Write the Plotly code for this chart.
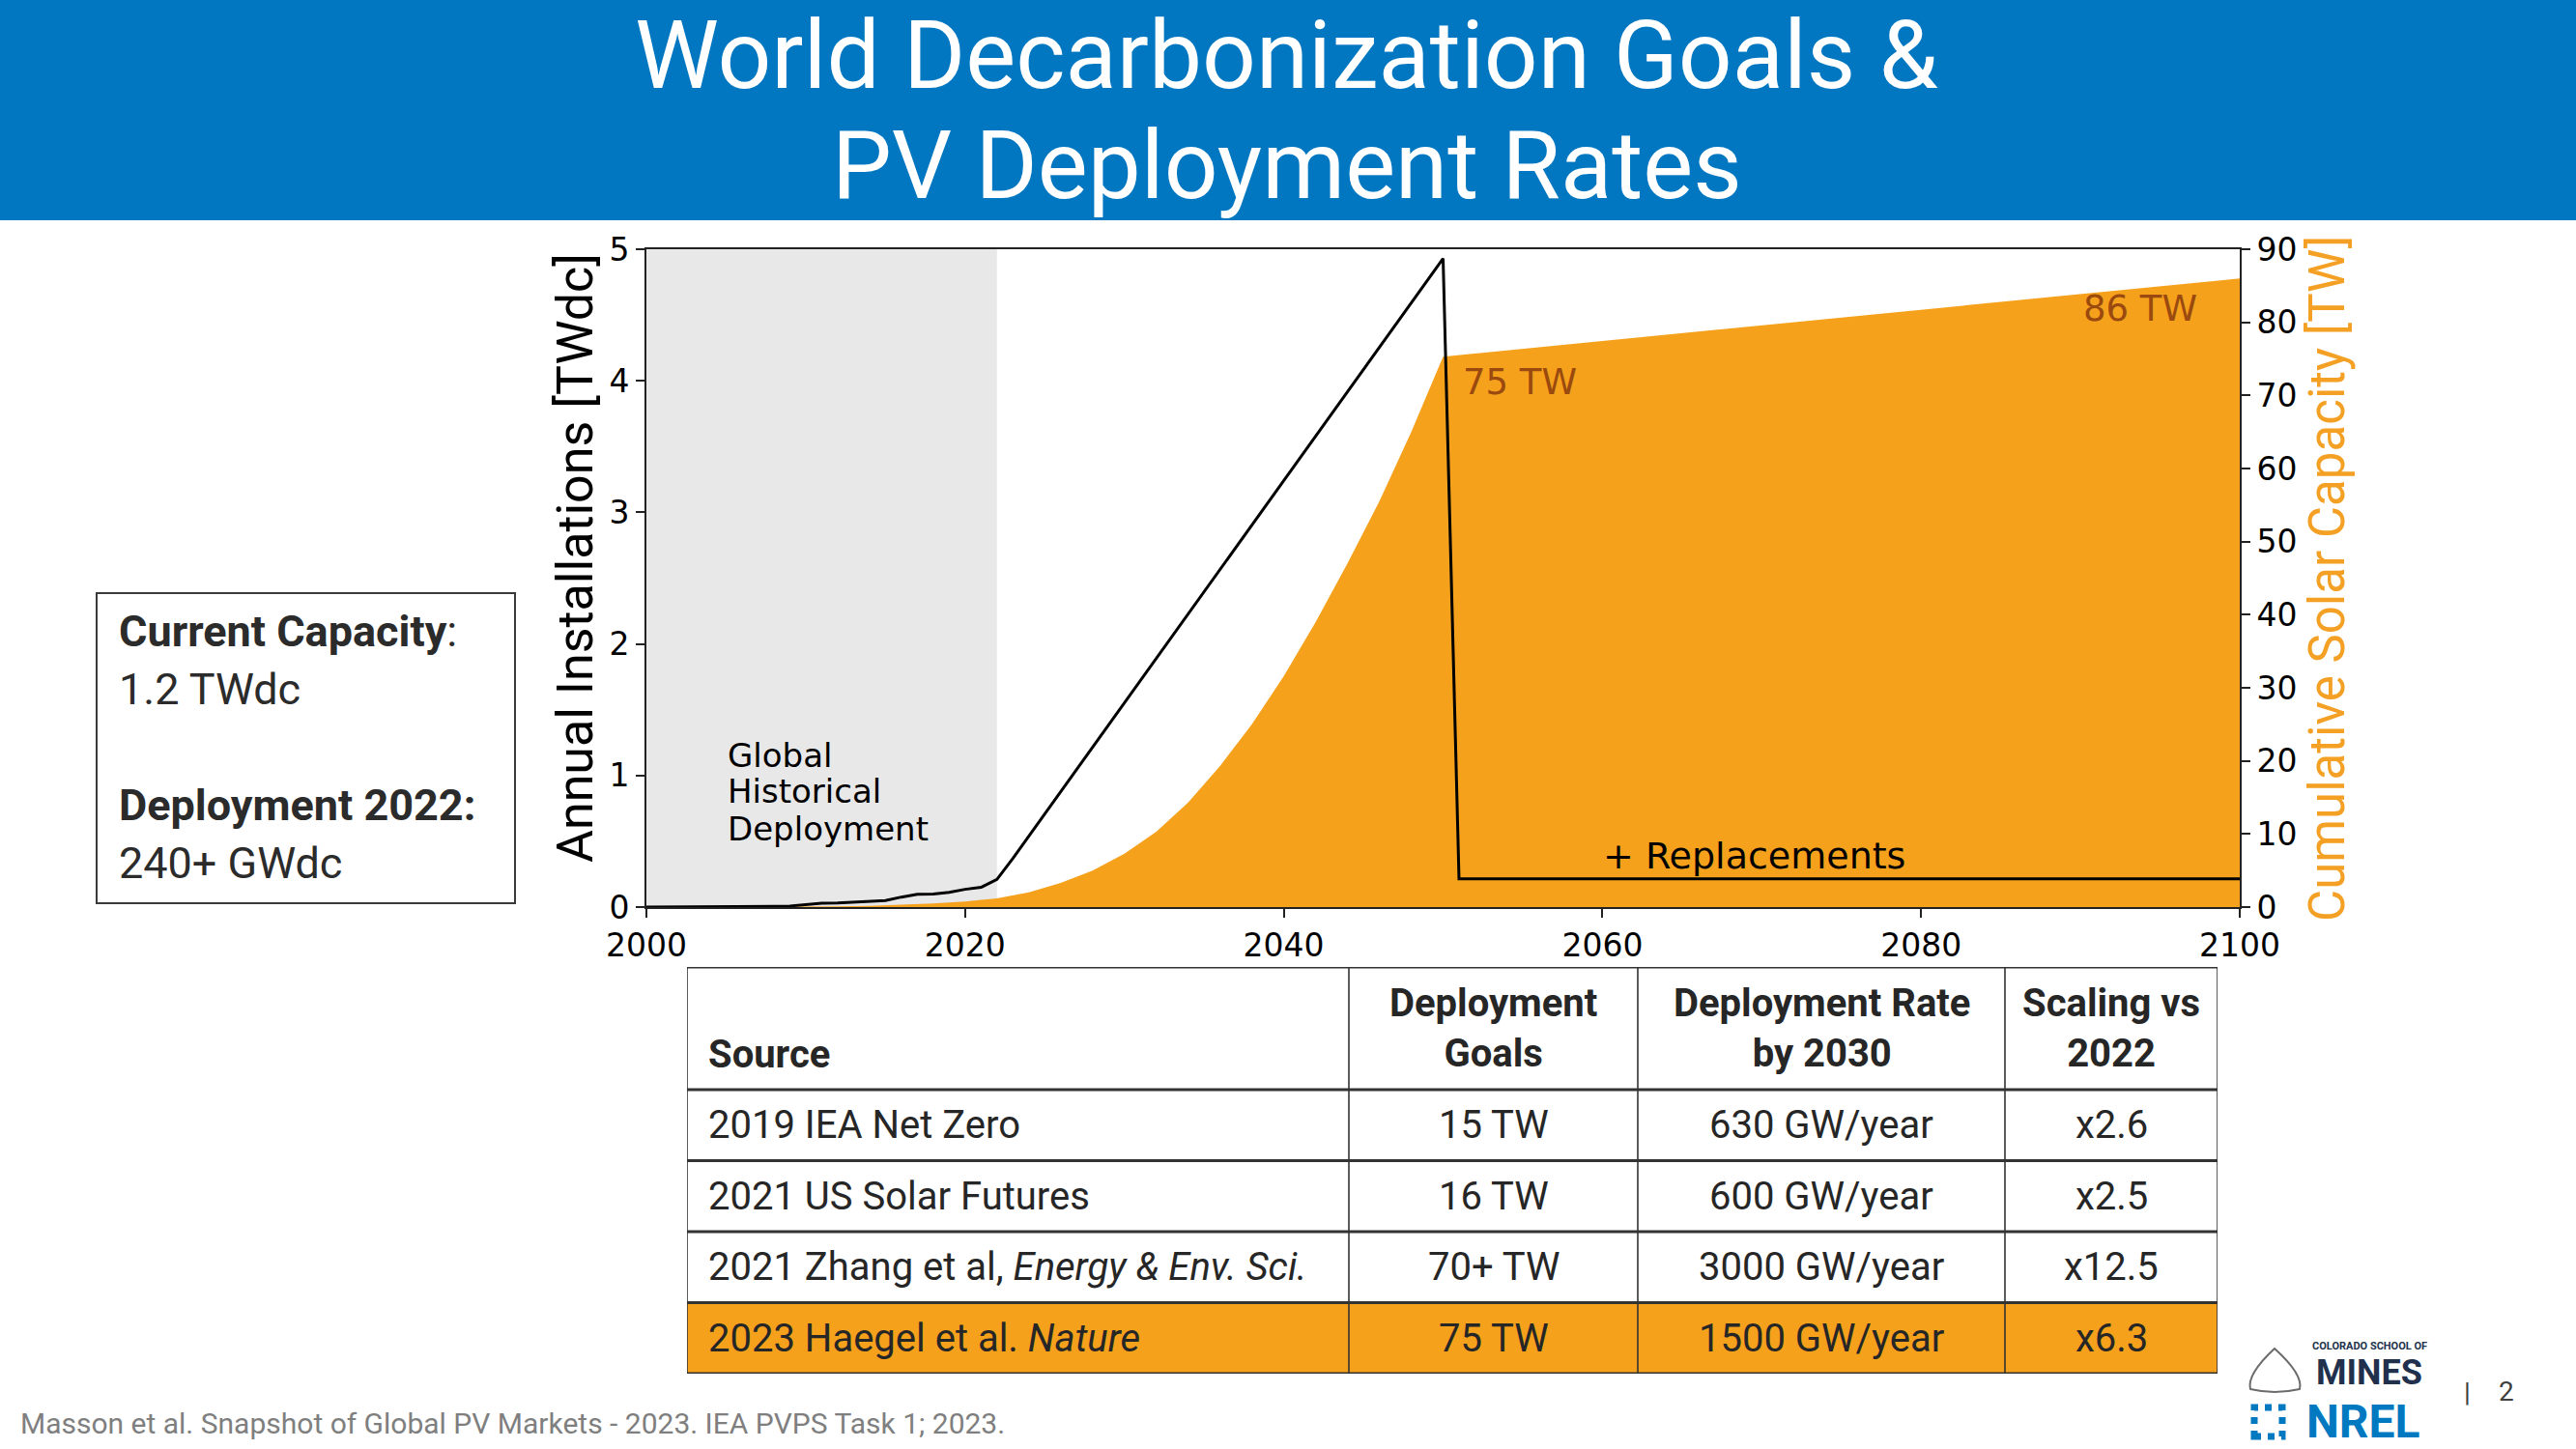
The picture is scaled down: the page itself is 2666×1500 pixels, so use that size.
import plotly.graph_objects as go

W, H = 2666, 1500

# ---------------- data ----------------
annual_years = [2000, 2005, 2008, 2009, 2010, 2011, 2012, 2013, 2014, 2015, 2016, 2017,
                2018, 2019, 2020, 2021, 2022, 2023, 2050, 2051, 2100]
annual_tw = [0.0, 0.001, 0.005, 0.008, 0.017, 0.030, 0.031, 0.036, 0.040, 0.050, 0.076, 0.098,
             0.100, 0.112, 0.135, 0.150, 0.210, 0.370, 4.930, 0.215, 0.215]

cum_years = [2000, 2005, 2010, 2012, 2014, 2016, 2018, 2020, 2022, 2024, 2026, 2028, 2030,
             2032, 2034, 2036, 2038, 2040, 2042, 2044, 2046, 2048, 2050, 2100]
cum_tw = [0.0, 0.005, 0.04, 0.10, 0.18, 0.30, 0.50, 0.76, 1.2, 2.0, 3.3, 5.0, 7.3,
          10.3, 14.3, 19.3, 25.0, 31.6, 39.0, 47.0, 55.5, 65.0, 75.3, 86.0]

historical_span = [2000, 2022]

x_ticks = [2000, 2020, 2040, 2060, 2080, 2100]
left_ticks = [0, 1, 2, 3, 4, 5]
right_ticks = [0, 10, 20, 30, 40, 50, 60, 70, 80, 90]

hist_label_lines = ["Global", "Historical", "Deployment"]
hist_label_y = [1.153, 0.881, 0.595]

table_header = ["Source", "Deployment<br>Goals", "Deployment Rate<br>by 2030", "Scaling vs<br>2022"]
sources = ["2019 IEA Net Zero", "2021 US Solar Futures",
           "2021 Zhang et al, <i>Energy &amp; Env. Sci.</i>", "2023 Haegel et al. <i>Nature</i>"]
goals = ["15 TW", "16 TW", "70+ TW", "75 TW"]
rates = ["630 GW/year", "600 GW/year", "3000 GW/year", "1500 GW/year"]
scaling = ["x2.6", "x2.5", "x12.5", "x6.3"]
highlight_row = 3

box_lines = [("<b>Current Capacity</b>:", 653), ("1.2 TWdc", 713),
             ("<b>Deployment 2022:</b>", 833), ("240+ GWdc", 893)]

# ---------------- styles / layout sizes ----------------
BLUE = "#0077C0"
ORANGE = "#F5A11C"
ORANGE_TXT = "#F4A024"
BROWN = "#9A4A0E"
DARK = "#262626"
CAL = "Roboto, Lato, 'Open Sans', sans-serif"
DJV = "DejaVu Sans, sans-serif"

col_w = [685, 299, 380, 220]          # table column widths (px)
row_h = [127, 73.5, 73.5, 73.5, 73.5]  # header + body row heights (px)


def px(x):
    return x / W


def py(y):
    return 1 - y / H


fig = go.Figure()

fig.add_trace(go.Scatter(x=cum_years, y=cum_tw, xaxis="x", yaxis="y", mode="lines",
                         line=dict(width=0, color=ORANGE), fill="tozeroy", fillcolor=ORANGE,
                         hoverinfo="skip", showlegend=False))
fig.add_trace(go.Scatter(x=annual_years, y=annual_tw, xaxis="x", yaxis="y2", mode="lines",
                         line=dict(width=3, color="black"), hoverinfo="skip", showlegend=False))

axis_common = dict(showgrid=False, zeroline=False, showline=True, linecolor="#222222", linewidth=2,
                   ticks="outside", ticklen=9, tickwidth=2, tickcolor="#222222", automargin=False,
                   tickfont=dict(family=DJV, size=33, color="black"))

tab_w = sum(col_w)
tab_h = sum(row_h)
fig.update_layout(
    width=W, height=H, margin=dict(l=0, r=0, t=0, b=0, pad=0, autoexpand=False),
    paper_bgcolor="white", plot_bgcolor="white", showlegend=False,
    xaxis=dict(domain=[px(669), px(2318)], range=[2000, 2100], tickvals=x_ticks, mirror=True,
               anchor="y", **axis_common),
    yaxis=dict(domain=[py(939), py(258)], range=[0, 90], tickvals=right_ticks, side="right",
               anchor="x", **axis_common),
    yaxis2=dict(range=[0, 5], tickvals=left_ticks, side="left", overlaying="y", anchor="x",
                **axis_common),
    # hidden axes used to lay out the table
    xaxis3=dict(domain=[px(711), px(711 + tab_w)], range=[0, tab_w], visible=False, anchor="y3",
                fixedrange=True, automargin=False),
    yaxis3=dict(domain=[py(1001 + tab_h), py(1001)], range=[tab_h, 0], visible=False, anchor="x3",
                fixedrange=True, automargin=False),
)

shapes = []
# grey historical span
shapes.append(dict(type="rect", xref="x", yref="y domain", x0=historical_span[0], x1=historical_span[1],
                   y0=0, y1=1, fillcolor="#E8E8E8", line=dict(width=0), layer="below"))
# blue banner
shapes.append(dict(type="rect", xref="paper", yref="paper", x0=0, x1=1, y0=py(228), y1=1,
                   fillcolor=BLUE, line=dict(width=0), layer="below"))
# info box
shapes.append(dict(type="rect", xref="paper", yref="paper", x0=px(100), x1=px(533), y0=py(935), y1=py(614),
                   fillcolor="rgba(0,0,0,0)", line=dict(color="#3a3a3a", width=2)))

# ---- table (on hidden axes x3/y3) ----
col_edges = [0]
for w in col_w:
    col_edges.append(col_edges[-1] + w)
row_edges = [0]
for h in row_h:
    row_edges.append(row_edges[-1] + h)

hl_top = row_edges[highlight_row + 1]
hl_bot = row_edges[highlight_row + 2]
shapes.append(dict(type="rect", xref="x3", yref="y3", x0=0, x1=tab_w, y0=hl_top, y1=hl_bot,
                   fillcolor=ORANGE, line=dict(width=0), layer="above"))
for xe in col_edges:
    shapes.append(dict(type="line", xref="x3", yref="y3", x0=xe, x1=xe, y0=0, y1=tab_h,
                       line=dict(color="#333333", width=1.6), layer="above"))
for ye in row_edges:
    shapes.append(dict(type="line", xref="x3", yref="y3", x0=-0.8, x1=tab_w + 0.8, y0=ye, y1=ye,
                       line=dict(color="#333333", width=3.2), layer="above"))

# NREL icon (dotted square)
shapes.append(dict(type="rect", xref="paper", yref="paper", x0=px(2333), x1=px(2362), y0=py(1487), y1=py(1457),
                   line=dict(color="#0079C1", width=7, dash="dot")))
# Mines shield outline
sx = px
sy = py
shapes.append(dict(type="path", xref="paper", yref="paper",
                   path=f"M {sx(2354)},{sy(1396)} Q {sx(2384)},{sy(1423)} {sx(2380)},{sy(1438)} "
                        f"Q {sx(2354)},{sy(1444)} {sx(2329)},{sy(1438)} Q {sx(2325)},{sy(1423)} {sx(2354)},{sy(1396)} Z",
                   line=dict(color="#6b6b6b", width=2), fillcolor="rgba(0,0,0,0)"))
fig.update_layout(shapes=shapes)

ann = []
# title
ann.append(dict(text="World Decarbonization Goals &", x=0.4995, y=py(57.5), xref="paper", yref="paper",
                xanchor="center", yanchor="middle", showarrow=False,
                font=dict(family=CAL, size=98, color="white", weight=400)))
ann.append(dict(text="PV Deployment Rates", x=0.4995, y=py(171.5), xref="paper", yref="paper",
                xanchor="center", yanchor="middle", showarrow=False,
                font=dict(family=CAL, size=98, color="white", weight=400)))
# axis titles
ann.append(dict(text="Annual Installations [TWdc]", x=px(595), y=py(578), xref="paper", yref="paper",
                textangle=-90, xanchor="center", yanchor="middle", showarrow=False,
                font=dict(family=CAL, size=52, color="black")))
ann.append(dict(text="Cumulative Solar Capacity [TW]", x=px(2408), y=py(599), xref="paper", yref="paper",
                textangle=-90, xanchor="center", yanchor="middle", showarrow=False,
                font=dict(family=CAL, size=51, color=ORANGE_TXT)))
# in-chart labels
for t, yv in zip(hist_label_lines, hist_label_y):
    ann.append(dict(text=t, x=2005.0, y=yv, xref="x", yref="y2", xanchor="left", yanchor="middle",
                    showarrow=False, font=dict(family=DJV, size=34, color="black")))
ann.append(dict(text="75 TW", x=2051.15, y=71.8, xref="x", yref="y", xanchor="left", yanchor="middle",
                showarrow=False, font=dict(family=DJV, size=37, color=BROWN)))
ann.append(dict(text="86 TW", x=2097.45, y=81.9, xref="x", yref="y", xanchor="right", yanchor="middle",
                showarrow=False, font=dict(family=DJV, size=37, color=BROWN)))
ann.append(dict(text="+ Replacements", x=2059.9, y=0.39, xref="x", yref="y2", xanchor="left",
                yanchor="middle", showarrow=False, font=dict(family=DJV, size=38, color="black")))

# table text
tfont = dict(family=CAL, size=40, color=DARK)
hdr_center = row_h[0] / 2
ann.append(dict(text="<b>" + table_header[0] + "</b>", x=20, y=90, xref="x3", yref="y3",
                xanchor="left", yanchor="middle", showarrow=False, font=tfont))
for c in range(1, 4):
    ann.append(dict(text="<b>" + table_header[c] + "</b>", x=(col_edges[c] + col_edges[c + 1]) / 2,
                    y=hdr_center, xref="x3", yref="y3", xanchor="center", yanchor="middle",
                    showarrow=False, font=tfont))
columns = [sources, goals, rates, scaling]
for r in range(len(sources)):
    yc = (row_edges[r + 1] + row_edges[r + 2]) / 2
    for c, col in enumerate(columns):
        if c == 0:
            ann.append(dict(text=col[r], x=20, y=yc, xref="x3", yref="y3", xanchor="left",
                            yanchor="middle", showarrow=False, font=tfont))
        else:
            ann.append(dict(text=col[r], x=(col_edges[c] + col_edges[c + 1]) / 2, y=yc, xref="x3",
                            yref="y3", xanchor="center", yanchor="middle", showarrow=False, font=tfont))

# info box text
for t, yy in box_lines:
    ann.append(dict(text=t, x=px(121), y=py(yy), xref="paper", yref="paper", xanchor="left",
                    yanchor="middle", showarrow=False, font=dict(family=CAL, size=45, color="#2b2b2b")))
# footer
ann.append(dict(text="Masson et al. Snapshot of Global PV Markets - 2023. IEA PVPS Task 1; 2023.",
                x=px(19), y=py(1473), xref="paper", yref="paper", xanchor="left", yanchor="middle",
                showarrow=False, font=dict(family=CAL, size=30, color="#7f7f7f")))
# logos / page number
ann.append(dict(text="<b>COLORADO SCHOOL OF</b>", x=px(2452), y=py(1393), xref="paper", yref="paper",
                xanchor="center", yanchor="middle", showarrow=False,
                font=dict(family=CAL, size=11, color="#21314D")))
ann.append(dict(text="<b>MINES</b>", x=px(2452), y=py(1421), xref="paper", yref="paper",
                xanchor="center", yanchor="middle", showarrow=False,
                font=dict(family=CAL, size=36, color="#21314D")))
ann.append(dict(text="<b>NREL</b>", x=px(2446), y=py(1471), xref="paper", yref="paper",
                xanchor="center", yanchor="middle", showarrow=False,
                font=dict(family=CAL, size=48, color="#0079C1")))
ann.append(dict(text="|", x=px(2553), y=py(1441), xref="paper", yref="paper",
                xanchor="center", yanchor="middle", showarrow=False,
                font=dict(family=CAL, size=28, color="#404040")))
ann.append(dict(text="2", x=px(2594), y=py(1440), xref="paper", yref="paper",
                xanchor="center", yanchor="middle", showarrow=False,
                font=dict(family=CAL, size=28, color="#404040")))
fig.update_layout(annotations=ann)

fig.write_html("out.html", config={"displayModeBar": False},
               post_script="document.body.style.margin='0';document.body.style.overflow='hidden';")
